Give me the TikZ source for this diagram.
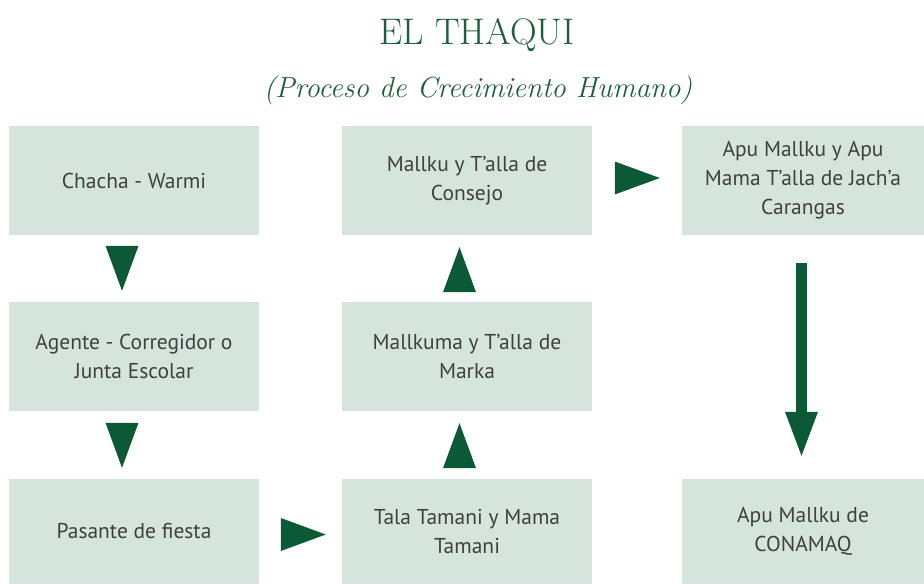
\documentclass[tikz,border=0pt]{standalone}
\usepackage{fontspec}
\newfontfamily\cajafont{PT Sans}
\usepackage{xcolor}
\usepackage{tikz}
\usetikzlibrary{arrows.meta, calc}

\definecolor{verdeoscuro}{HTML}{0B5A35}
\definecolor{verdetitulo}{HTML}{1E5E3C}
\definecolor{fondocaja}{HTML}{D5E4DD}
\definecolor{textocaja}{HTML}{404040}

\begin{document}
\begin{tikzpicture}[x=1pt, y=-1pt,
    paso/.style={rectangle, fill=fondocaja, inner sep=0pt, align=center,
        text=textocaja, font=\cajafont\fontsize{21.5}{29}\selectfont},
    flecha/.style={draw=verdeoscuro, line width=0.01pt,
        -{Triangle[length=45pt, width=33pt, line width=0pt]}},
    flechalarga/.style={draw=verdeoscuro, line width=11pt,
        -{Triangle[length=44pt, width=33pt, line width=0pt]}}]
    % 1. marco del dibujo
    \useasboundingbox (0,0) rectangle (924,584);

    % 2. titulo
    \node[anchor=base, text=verdetitulo, font=\fontsize{37}{40}\selectfont]
        (titulo) at (477,44) {EL THAQUI};
    \node[anchor=base, text=verdetitulo, font=\itshape\fontsize{29}{32}\selectfont]
        (subtitulo) at (478,97) {(Proceso de Crecimiento Humano)};

    % 3. cajas (columna 1)
    \node[paso, minimum width=250pt, minimum height=109pt] (chacha) at (134,180.5) {Chacha - Warmi};
    \node[paso, minimum width=250pt, minimum height=109pt] (agente) at (134,356.5) {Agente - Corregidor o\\Junta Escolar};
    \node[paso, minimum width=250pt, minimum height=105pt] (pasante) at (134,531.5) {Pasante de fiesta};

    % 4. cajas (columna 2)
    \node[paso, minimum width=250pt, minimum height=109pt] (consejo) at (467,180.5) {Mallku y T’alla de\\Consejo};
    \node[paso, minimum width=250pt, minimum height=109pt] (marka) at (467,356.5) {Mallkuma y T’alla de\\Marka};
    \node[paso, minimum width=250pt, minimum height=105pt] (tamani) at (467,531.5) {Tala Tamani y Mama\\Tamani};

    % 5. cajas (columna 3)
    \node[paso, minimum width=242pt, minimum height=109pt] (carangas) at (803,180.5) {Apu Mallku y Apu\\Mama T’alla de Jach’a\\Carangas};
    \node[paso, minimum width=242pt, minimum height=105pt] (conamaq) at (803,531.5) {Apu Mallku de\\CONAMAQ};

    % 6. flechas (solo la punta triangular)
    \draw[flecha, shorten <=11pt, shorten >=11pt]
        ([xshift=-12pt]chacha.south) -- ([xshift=-12pt]agente.north);
    \draw[flecha, shorten <=12pt, shorten >=11pt]
        ([xshift=-12pt]agente.south) -- ([xshift=-12pt]pasante.north);
    \draw[flecha, shorten <=22pt, shorten >=16pt]
        ([yshift=-3pt]pasante.east) -- ([yshift=-3pt]tamani.west);
    \draw[flecha, shorten <=11pt, shorten >=12pt]
        ([xshift=-7.5pt]tamani.north) -- ([xshift=-7.5pt]marka.south);
    \draw[flecha, shorten <=10pt, shorten >=12pt]
        ([xshift=-7.5pt]marka.north) -- ([xshift=-7.5pt]consejo.south);
    \draw[flecha, shorten <=23pt, shorten >=22pt]
        ([yshift=2.5pt]consejo.east) -- ([yshift=2.5pt]carangas.west);

    % 7. flecha larga hacia CONAMAQ
    \draw[flechalarga, shorten <=28pt, shorten >=23pt]
        ([xshift=-1.5pt]carangas.south) -- ([xshift=-1.5pt]conamaq.north);
\end{tikzpicture}
\end{document}
